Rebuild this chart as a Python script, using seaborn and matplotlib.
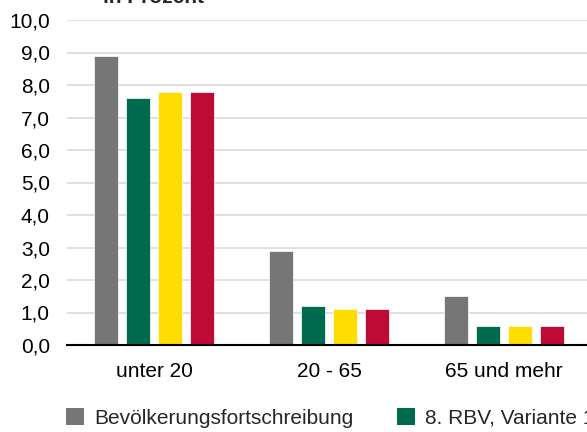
import pandas as pd
import numpy as np
import matplotlib
matplotlib.use("Agg")
import matplotlib.pyplot as plt
import seaborn as sns
from matplotlib.patches import Patch
from matplotlib.ticker import FuncFormatter

# Data
categories = ["unter 20", "20 - 65", "65 und mehr"]
series_names = [
    "Bevölkerungsfortschreibung",
    "8. RBV, Variante 1",
    "8. RBV, Variante 2",
    "8. RBV, Variante 3",
]
bevoelkerung = [8.9, 2.9, 1.5]
variante_1 = [7.6, 1.2, 0.6]
variante_2 = [7.8, 1.1, 0.6]
variante_3 = [7.8, 1.1, 0.6]
colors = ["#767676", "#006A4E", "#FFDD00", "#BE0A36"]

# Build long table for seaborn
df = pd.DataFrame({
    "kategorie": categories * 4,
    "reihe": np.repeat(series_names, len(categories)),
    "wert": bevoelkerung + variante_1 + variante_2 + variante_3,
})

sns.set_style("white")
plt.rcParams["font.family"] = ["Liberation Sans", "DejaVu Sans"]

fig = plt.figure(figsize=(5.87, 4.32), dpi=100)
# plot area runs a little past the right edge, as in the reference
ax = fig.add_axes([66.5 / 587, 87 / 432, 525 / 587, 325 / 432])

sns.barplot(data=df, x="kategorie", y="wert", hue="reihe",
            order=categories, hue_order=series_names, palette=colors,
            saturation=1, width=0.73, gap=0.25, edgecolor="white",
            linewidth=0.5, legend=False, ax=ax)

ax.set_xlim(-0.5, 2.5)
ax.set_ylim(0, 10)
ax.set_yticks(np.arange(0, 11, 1))
ax.yaxis.set_major_formatter(FuncFormatter(lambda v, p: f"{v:.1f}".replace(".", ",")))
ax.grid(axis="y", color="#d9d9d9", linewidth=1.2)
ax.set_axisbelow(True)
for side in ["left", "right", "top"]:
    ax.spines[side].set_visible(False)
ax.spines["bottom"].set_color("black")
ax.spines["bottom"].set_linewidth(1.5)
ax.spines["bottom"].set_zorder(5)
ax.tick_params(axis="both", length=0, labelsize=15, colors="black")
ax.tick_params(axis="x", pad=12)
ax.tick_params(axis="y", pad=12)
ax.set_xlabel("")
ax.set_ylabel("")

# Title, mostly cut off at the top edge (as in the reference)
fig.text(103 / 587, 1 - 3 / 432, "in Prozent", fontsize=15, fontweight="bold",
         va="baseline", ha="left")

handles = [Patch(facecolor=c, edgecolor="none") for c in colors]
fig.legend(handles, series_names, loc="center left",
           bbox_to_anchor=(66 / 587, 1 - 418 / 432), ncol=4, frameon=False,
           fontsize=15, handlelength=0.85, handleheight=0.85,
           handletextpad=0.5, columnspacing=2.1, borderpad=0, borderaxespad=0)

fig.savefig("out.png", dpi=100)
